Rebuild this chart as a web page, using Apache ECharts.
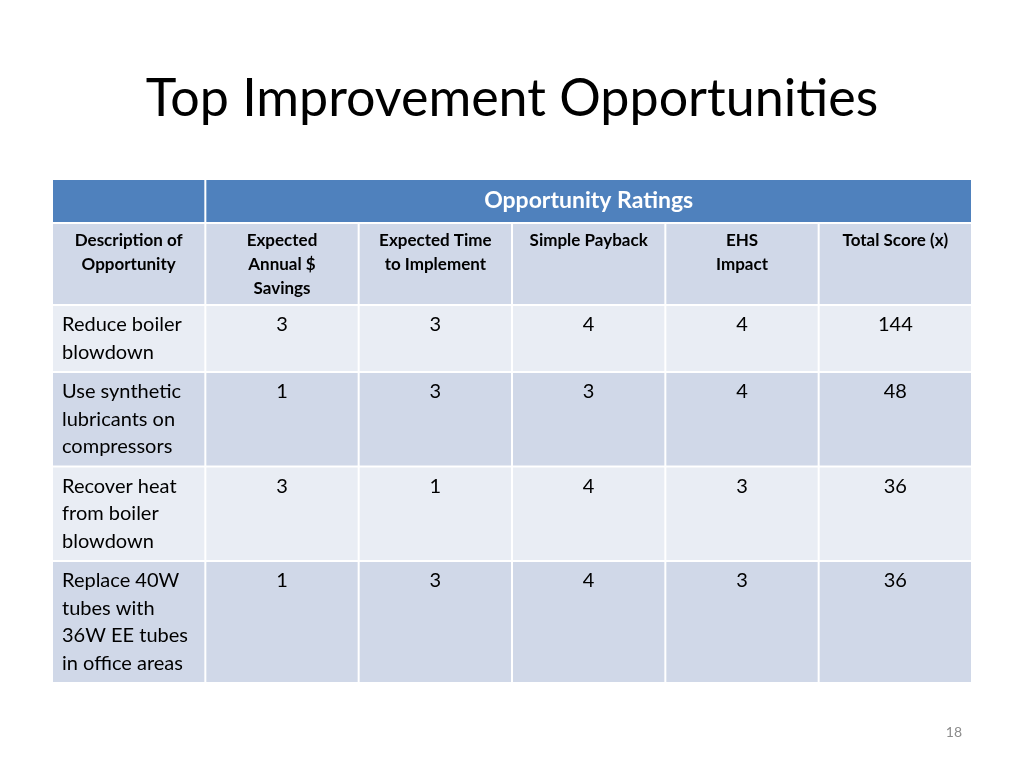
<!DOCTYPE html>
<html><head><meta charset="utf-8">
<script src="https://cdn.jsdelivr.net/npm/echarts@6/dist/echarts.min.js"></script>
<style>html,body{margin:0;background:#fff}#c{width:1024px;height:768px}</style>
</head><body><div id="c"></div>
<script>
const title = 'Top Improvement Opportunities';
const groupHeader = 'Opportunity Ratings';
const columns = ['Description of\nOpportunity','Expected\nAnnual $\nSavings','Expected Time\nto Implement','Simple Payback','EHS\nImpact','Total Score (x)'];
const descriptions = ['Reduce boiler\nblowdown','Use synthetic\nlubricants on\ncompressors','Recover heat\nfrom boiler\nblowdown','Replace 40W\ntubes with\n36W EE tubes\nin office areas'];
const annualSavings = [3,1,3,1];
const timeToImplement = [3,3,1,3];
const simplePayback = [4,3,4,4];
const ehsImpact = [4,4,3,3];
const totalScore = [144,48,36,36];
const pageNumber = '18';

const bodyLine = 27.5, bodyPad = 12, headLine = 24, headPad = 10, topH = 44;
const rowH = [topH, 3*headLine+headPad].concat(descriptions.map(d => d.split('\n').length*bodyLine+bodyPad));
const rowTop = []; let acc = 0; rowH.forEach(h => { rowTop.push(acc); acc += h; });

const cells = [];
cells.push({value:[0,0,1], text:'', kind:'top'});
cells.push({value:[1,0,5], text:groupHeader, kind:'top'});
columns.forEach((c,i)=>cells.push({value:[i,1,1], text:c, kind:'sub'}));
descriptions.forEach((d,r)=>{
  const vals=[d,annualSavings[r],timeToImplement[r],simplePayback[r],ehsImpact[r],totalScore[r]];
  vals.forEach((v,i)=>cells.push({value:[i,r+2,1], text:String(v), kind:'body', alt:r%2}));
});

const chart = echarts.init(document.getElementById('c'));
chart.setOption({
  title:{text:title,left:'center',top:68,textStyle:{fontFamily:'Lato',fontWeight:'normal',fontSize:52,color:'#000'}},
  graphic:[{type:'text',right:62,top:725,style:{text:pageNumber,fontFamily:'Lato',fontSize:14,fill:'#8c8c8c'}}],
  grid:{left:52,width:920,top:179,height:acc},
  xAxis:{type:'value',min:0,max:6,show:false},
  yAxis:{type:'value',min:0,max:acc,inverse:true,show:false},
  series:[{type:'custom',data:cells,animation:false,
    renderItem:(params,api)=>{
      const d=cells[params.dataIndex];
      const [c,r,span]=d.value;
      const p0=api.coord([c,rowTop[r]]), p1=api.coord([c+span,rowTop[r]+rowH[r]]);
      const x=p0[0]+1,y=p0[1]+1,w=p1[0]-p0[0]-2,h=p1[1]-p0[1]-2;
      let fill,tf;
      if(d.kind==='top'){fill='#4F81BD';tf={text:d.text,x:x+w/2,y:y+h/2,align:'center',verticalAlign:'middle',fontFamily:'Lato',fontWeight:'bold',fontSize:23,fill:'#fff'};}
      else if(d.kind==='sub'){fill='#D0D8E8';tf={text:d.text,x:x+w/2,y:y+5,align:'center',verticalAlign:'top',fontFamily:'Lato',fontWeight:'bold',fontSize:17,lineHeight:headLine,fill:'#000'};}
      else{fill=d.alt?'#D0D8E8':'#E9EDF4';
        tf=c===0?{text:d.text,x:x+9,y:y+5,align:'left',verticalAlign:'top',fontFamily:'Lato',fontSize:20,lineHeight:bodyLine,fill:'#000'}
               :{text:d.text,x:x+w/2,y:y+5,align:'center',verticalAlign:'top',fontFamily:'Lato',fontSize:20,lineHeight:bodyLine,fill:'#000'};}
      return {type:'group',children:[
        {type:'rect',shape:{x,y,width:w,height:h},style:{fill}},
        {type:'text',style:tf}
      ]};
    }}]
});
</script></body></html>
